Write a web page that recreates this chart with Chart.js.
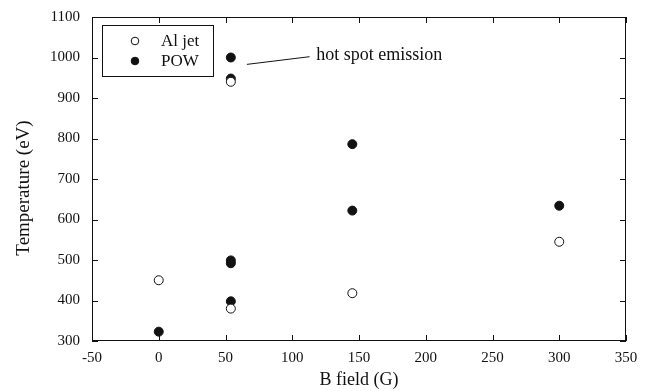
<!DOCTYPE html>
<html>
<head>
<meta charset="utf-8">
<script src="https://cdn.jsdelivr.net/npm/chart.js@4.4.1/dist/chart.umd.min.js"></script>
<style>
  html, body { margin: 0; padding: 0; background: #fff; }
  #wrap { width: 647px; height: 391px; }
</style>
</head>
<body>
<div id="wrap"><canvas id="c" width="647" height="391"></canvas></div>
<script>
// Measured plasma temperatures versus applied magnetic field
const seriesNames = ['Al jet', 'POW'];

const alJetField = [0, 54, 54, 145, 300];
const alJetTemp  = [450, 380, 940, 418, 545];

const powField = [0, 54, 54, 54, 54, 54, 145, 145, 300];
const powTemp  = [323, 398, 492, 499, 948, 1000, 622, 786, 634];

const xTicks = [-50, 0, 50, 100, 150, 200, 250, 300, 350];
const yTicks = [300, 400, 500, 600, 700, 800, 900, 1000, 1100];

const xTitle = 'B field (G)';
const yTitle = 'Temperature (eV)';
const noteText = 'hot spot emission';

const SERIF = '"Liberation Serif", "Times New Roman", serif';
const INK = '#111';

function pts(xs, ys) { return xs.map((x, i) => ({ x: x, y: ys[i] })); }

// Frame, inward tick marks on all four sides, legend box, y title and callout
const framePlugin = {
  id: 'frame',
  afterDatasetsDraw(chart) {
    const { ctx, chartArea: a, scales } = chart;
    const xs = scales.x, ys = scales.y;
    const tl = 6;
    ctx.save();
    ctx.strokeStyle = INK;
    ctx.lineWidth = 1;
    ctx.strokeRect(a.left + 0.5, a.top + 0.5, a.right - a.left - 1, a.bottom - a.top - 1);
    ctx.beginPath();
    xTicks.forEach(v => {
      const px = Math.round(xs.getPixelForValue(v)) + 0.5;
      ctx.moveTo(px, a.bottom); ctx.lineTo(px, a.bottom - tl);
      ctx.moveTo(px, a.top); ctx.lineTo(px, a.top + tl);
    });
    yTicks.forEach(v => {
      const py = Math.round(ys.getPixelForValue(v)) + 0.5;
      ctx.moveTo(a.left, py); ctx.lineTo(a.left + tl, py);
      ctx.moveTo(a.right, py); ctx.lineTo(a.right - tl, py);
    });
    ctx.stroke();

    // legend
    const bx = a.left + 10, by = a.top + 8, bw = 111, bh = 51;
    ctx.fillStyle = '#fff';
    ctx.fillRect(bx, by, bw, bh);
    ctx.strokeRect(bx + 0.5, by + 0.5, bw, bh);
    ctx.font = '17px ' + SERIF;
    ctx.textBaseline = 'middle';
    ctx.textAlign = 'left';
    chart.data.datasets.forEach((ds, i) => {
      const cy = by + 16 + i * 20;
      const cx = bx + 33;
      ctx.beginPath();
      ctx.arc(cx, cy, 3.8, 0, Math.PI * 2);
      ctx.fillStyle = ds.backgroundColor;
      ctx.fill();
      ctx.strokeStyle = ds.borderColor;
      ctx.lineWidth = 1;
      ctx.stroke();
      ctx.fillStyle = INK;
      ctx.fillText(ds.label, bx + 59, cy + 1);
    });

    // callout for the high-temperature points
    const note = chart.options.plugins.frame;
    ctx.beginPath();
    ctx.strokeStyle = INK;
    ctx.moveTo(xs.getPixelForValue(note.lineFrom[0]), ys.getPixelForValue(note.lineFrom[1]));
    ctx.lineTo(xs.getPixelForValue(note.lineTo[0]), ys.getPixelForValue(note.lineTo[1]));
    ctx.stroke();
    ctx.fillStyle = INK;
    ctx.font = '18px ' + SERIF;
    ctx.fillText(noteText, xs.getPixelForValue(note.textAt[0]), ys.getPixelForValue(note.textAt[1]));

    // vertical axis title, centred a little below the middle of the axis
    ctx.save();
    ctx.translate(24, (a.top + a.bottom) / 2 + 9);
    ctx.rotate(-Math.PI / 2);
    ctx.textAlign = 'center';
    ctx.textBaseline = 'middle';
    ctx.font = '19px ' + SERIF;
    ctx.fillText(yTitle, 0, 0);
    ctx.restore();
    ctx.restore();
  }
};

const plainNumber = v => String(v);

new Chart(document.getElementById('c'), {
  type: 'scatter',
  data: {
    datasets: [
      {
        label: seriesNames[0],
        data: pts(alJetField, alJetTemp),
        backgroundColor: '#fff',
        borderColor: INK,
        borderWidth: 1,
        pointRadius: 4.5,
        pointHoverRadius: 4.5
      },
      {
        label: seriesNames[1],
        data: pts(powField, powTemp),
        backgroundColor: INK,
        borderColor: INK,
        borderWidth: 1,
        pointRadius: 4.5,
        pointHoverRadius: 4.5
      }
    ]
  },
  options: {
    responsive: false,
    animation: false,
    devicePixelRatio: 1,
    layout: { padding: { top: 17, right: 21, left: 0, bottom: 0 } },
    plugins: {
      legend: { display: false },
      tooltip: { enabled: false },
      frame: { lineFrom: [66, 983], lineTo: [113, 1002], textAt: [118, 1005] }
    },
    scales: {
      x: {
        type: 'linear',
        min: -50, max: 350,
        afterBuildTicks: s => { s.ticks = xTicks.map(v => ({ value: v })); },
        afterFit: s => { s.height = 50; s.paddingLeft = 0; s.paddingRight = 0; },
        grid: { display: false, drawTicks: false },
        border: { display: false },
        ticks: { color: INK, font: { family: SERIF, size: 15 }, padding: 8, maxRotation: 0, callback: plainNumber },
        title: { display: true, text: xTitle, color: INK, font: { family: SERIF, size: 18 }, padding: { top: 0, bottom: 0 } }
      },
      y: {
        type: 'linear',
        min: 300, max: 1100,
        afterBuildTicks: s => { s.ticks = yTicks.map(v => ({ value: v })); },
        afterFit: s => { s.width = 92; s.paddingTop = 0; s.paddingBottom = 0; },
        grid: { display: false, drawTicks: false },
        border: { display: false },
        ticks: { color: INK, font: { family: SERIF, size: 15 }, padding: 12, callback: plainNumber },
        title: { display: false }
      }
    }
  },
  plugins: [framePlugin]
});
</script>
</body>
</html>
